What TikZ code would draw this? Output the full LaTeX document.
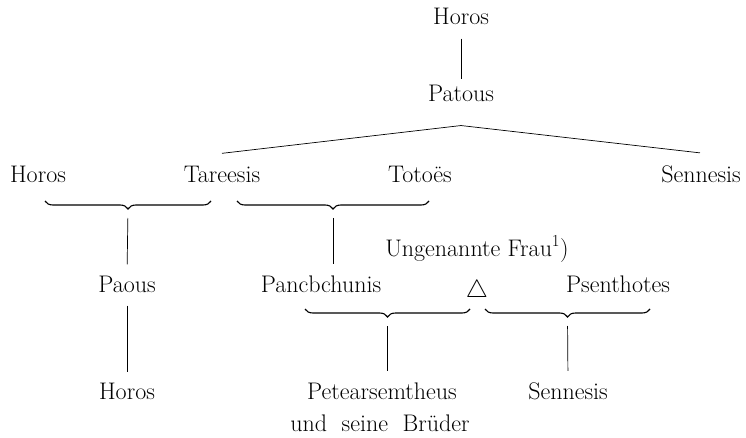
\documentclass[tikz,border=0pt]{standalone}
\usepackage{amsmath}
\usepackage{amssymb}
\usetikzlibrary{decorations.pathreplacing}

\begin{document}
\begin{tikzpicture}[x=1pt,y=-1pt,line width=0.7pt,
	every node/.style={font=\fontsize{24}{28}\selectfont,anchor=base,inner sep=0pt},
	bracedown/.style={line width=1.1pt,decorate,decoration={brace,mirror,amplitude=8pt}},
	stem/.style={shorten <=9pt,shorten >=11pt},
	link/.style={shorten <=13pt,shorten >=6pt}]
	\useasboundingbox (0,0) rectangle (746,438);
	% ancestors
	\node (horos0) at (461,25) {Horos};
	\node (patous) at (461,102) {Patous};
	\draw[link] (horos0.south) -- (patous.north);
	% children of Patous
	\node (horos1) at (38,183) {Horos};
	\node (tareesis) at (222,183) {Tareesis};
	\node (totoes) at (420,183) {Totoës};
	\node (sennesis1) at (701,183) {Sennesis};
	\draw ([yshift=-23pt]patous.south) -- ([yshift=13pt]tareesis.north);
	\draw ([yshift=-23pt]patous.south) -- ([yshift=13pt,xshift=-1pt]sennesis1.north);
	% marriages
	\draw[bracedown] (45,201) -- coordinate[yshift=-8pt] (tip1) (211,201);
	\draw[bracedown] (237,201) -- coordinate[yshift=-8pt] (tip2) (429,201);
	\node (paous) at (127,292) {Paous};
	\node (pancb) at (321,292) {Pancbchunis};
	\node (frau) at (477,256) {Ungenannte Frau\textsuperscript{1})};
	\node (tri) at (477,297) {$\triangle$};
	\node (psenth) at (618,292) {Psenthotes};
	\draw[stem] (tip1) -- (paous.north);
	\draw[stem,line width=0.5pt] (tip2) -- (tip2 |- pancb.north);
	% grandchildren
	\draw[bracedown] (305,309) -- coordinate[yshift=-8pt] (tip3) (470,309);
	\draw[bracedown] (485,309) -- coordinate[yshift=-8pt] (tip4) (650,309);
	\node (horos2) at (127,399) {Horos};
	\node (petear) at (382,399) {Petearsemtheus};
	\node (brueder) at (380,431) {und\ \ seine\ \ Brüder};
	\node (sennesis2) at (568,399) {Sennesis};
	\draw[link,shorten >=10pt] (paous.south) -- (horos2.north);
	\draw[stem] (tip3) -- (tip3 |- petear.north);
	\draw[stem] (tip4) -- (sennesis2.north);
\end{tikzpicture}
\end{document}
